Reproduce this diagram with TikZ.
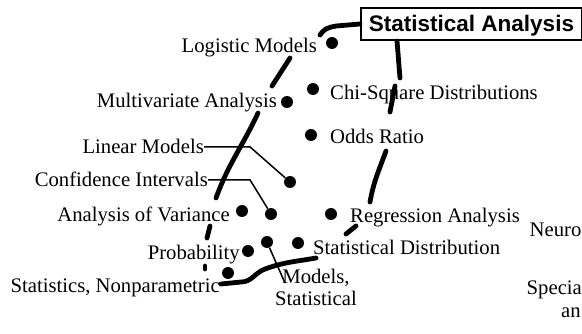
\documentclass[tikz,border=0pt]{standalone}
\usepackage{fontspec}
\setmainfont{Liberation Serif}
\newfontfamily\headfont{Liberation Sans}
\begin{document}
\begin{tikzpicture}[x=1pt,y=1pt]
    \tikzset{
      lbl/.style={inner sep=0pt, font=\fontsize{20.7}{22}\selectfont},
      dot/.style={circle, fill=black, inner sep=0pt, minimum size=12pt},
      conn/.style={black, line width=1.5pt},
      rim/.style={black, line width=4.8pt, line cap=round},
      headbox/.style={draw, line width=2pt, inner sep=0pt, minimum width=221pt, minimum height=32pt,
        text height=16pt, text depth=0pt, font=\headfont\bfseries\fontsize{22.5}{24}\selectfont}
    }
    \clip (0,0) rectangle (582,-334);
    \node [headbox] (head) at (471.5,-24) {Statistical Analysis};
    \node [dot] (dLog) at (332,-43) {};
    \node [dot] (dMulti) at (287,-102) {};
    \node [dot] (dChi) at (313,-89) {};
    \node [dot] (dOdds) at (311,-135) {};
    \node [dot] (dLin) at (290,-182) {};
    \node [dot] (dConf) at (271,-214) {};
    \node [dot] (dAnova) at (242,-211) {};
    \node [dot] (dReg) at (331,-214) {};
    \node [dot] (dProb) at (248,-251) {};
    \node [dot] (dModels) at (267,-242) {};
    \node [dot] (dStatD) at (298,-243) {};
    \node [dot] (dNonpar) at (228,-273) {};
    \node [lbl, anchor=base east] (log) at (317,-53) {Logistic Models};
    \node [lbl, anchor=base east] (multi) at (277,-108) {Multivariate Analysis};
    \node [lbl, anchor=base east] (lin) at (204,-154) {Linear Models};
    \node [lbl, anchor=base east] (conf) at (208,-187) {Confidence Intervals};
    \node [lbl, anchor=base east] (anova) at (230,-222) {Analysis of Variance};
    \node [lbl, anchor=base east] (prob) at (240,-260) {Probability};
    \node [lbl, anchor=base east] (nonpar) at (220,-293) {Statistics, Nonparametric};
    \node [lbl, anchor=base west] (chi) at (330,-100) {Chi-Square Distributions};
    \node [lbl, anchor=base west] (odds) at (330,-144) {Odds Ratio};
    \node [lbl, anchor=base west] (reg) at (350,-223) {Regression Analysis};
    \node [lbl, anchor=base west] (statd) at (313,-255) {Statistical Distribution};
    \node [lbl, anchor=base, align=center] (mod) at (316,-306) {Models,\\Statistical};
    \node [lbl, anchor=base west] (neuro) at (529.5,-237) {Neuro};
    \node [lbl, anchor=base west] (spec) at (526.5,-295) {Specia};
    \node [lbl, anchor=base west] (spec2) at (561,-318) {an};
    \coordinate (modTip) at (285,-283);
    \draw [conn] (lin.east) -- ++(46,0) -- (dLin);
    \draw [conn] (conf.east) -- ++(42,0) -- (dConf);
    \draw [conn] (dModels) -- (modTip);
    \draw [rim] (head.west) -- (336,-26) to[out=190,in=60] (320,-35);
    \draw [rim] (290,-58) -- (272,-86);
    \draw [rim] (258,-113) to[out=-115,in=70] (216,-198);
    \draw [rim] (210,-226) -- (207,-238);
    \draw [rim] (205,-266) -- (205,-269);
    \draw [rim] (221,-284) -- (241,-282) to[out=0,in=200] (265,-269) to[out=20,in=190] (316,-258);
    \draw [rim] (346,-234) -- (356,-226);
    \draw [rim] (370,-202) to[out=80,in=-110] (386,-151);
    \draw [rim] (390,-112) -- (395,-86);
    \draw [rim] (400,-78) to[out=95,in=-85] (397,-41);
\end{tikzpicture}
\end{document}
